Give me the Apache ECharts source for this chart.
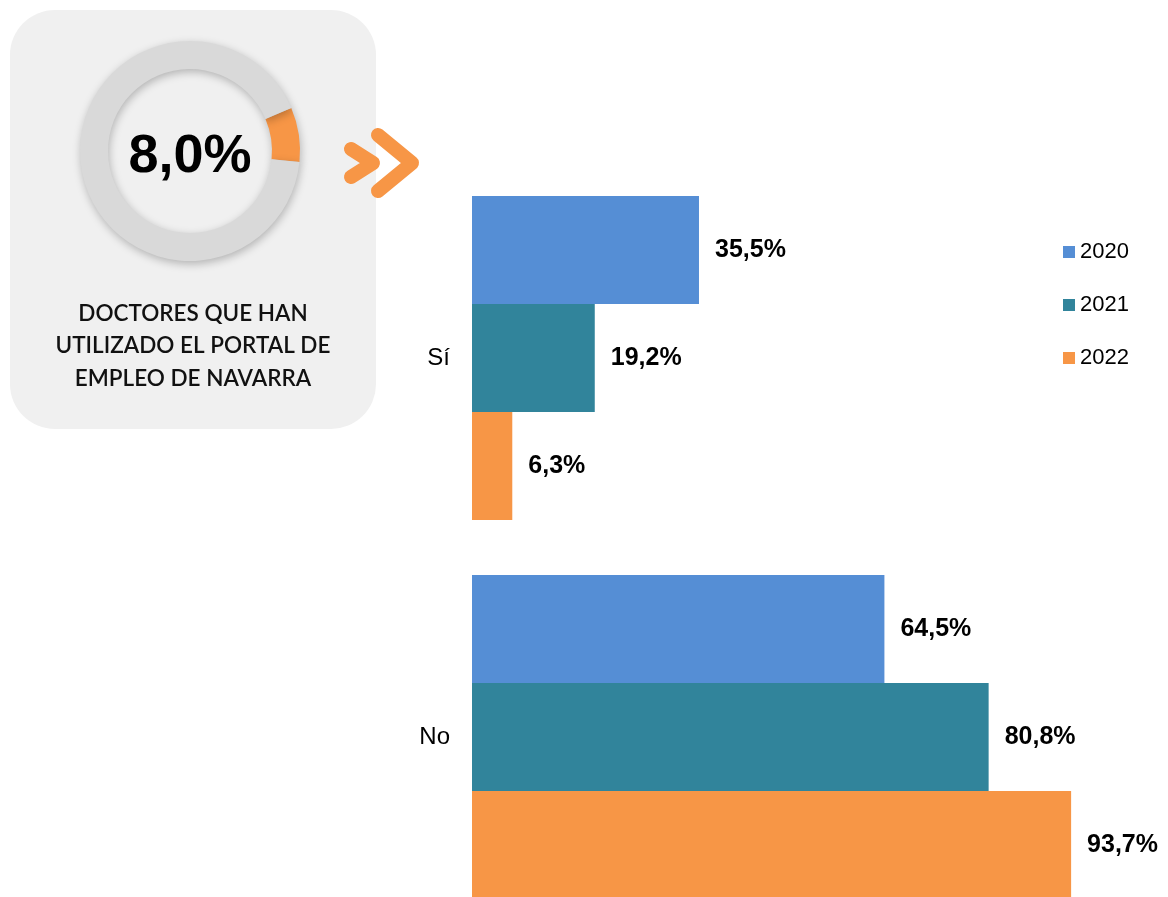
<!DOCTYPE html>
<html>
<head>
<meta charset="utf-8">
<script src="https://cdn.jsdelivr.net/npm/echarts@6/dist/echarts.min.js"></script>
<style>html,body{margin:0;padding:0;background:#fff}#c{width:1168px;height:897px}</style>
</head>
<body>
<div id="c"></div>
<script>
// ---- data ----
var categories = ['Sí', 'No'];
var years = ['2020', '2021', '2022'];
var values2020 = [35.5, 64.5];
var values2021 = [19.2, 80.8];
var values2022 = [6.3, 93.7];
var donutValues = [8.0, 92.0];
var donutLabel = '8,0%';
var panelLines = ['DOCTORES QUE HAN', 'UTILIZADO EL PORTAL DE', 'EMPLEO DE NAVARRA'];

var colors = ['#558ED5', '#31849B', '#F79646'];
var seriesValues = [values2020, values2021, values2022];

function fmt(v) { return v.toFixed(1).replace('.', ',') + '%'; }

var chart = echarts.init(document.getElementById('c'), null, { renderer: 'canvas' });

var barSeries = years.map(function (y, i) {
  return {
    name: y,
    type: 'bar',
    xAxisIndex: 0,
    yAxisIndex: 0,
    barGap: '0%',
    barCategoryGap: '14.5%',
    itemStyle: { color: colors[i] },
    label: {
      show: true,
      position: 'right',
      distance: 16,
      color: '#000',
      fontFamily: 'Arial, "Liberation Sans", sans-serif',
      fontWeight: 'bold',
      fontSize: 25,
      formatter: function (p) { return fmt(p.value); }
    },
    data: seriesValues[i]
  };
});

var option = {
  animation: false,
  backgroundColor: '#ffffff',
  legend: {
    data: years,
    orient: 'vertical',
    left: 1063,
    top: 241,
    padding: 0,
    itemWidth: 12,
    itemHeight: 12,
    itemGap: 31,
    icon: 'rect',
    textStyle: { fontSize: 22, color: '#000', fontFamily: 'Arial, "Liberation Sans", sans-serif', padding: [0, 0, 0, 0] }
  },
  grid: { left: 472, top: 168.5, width: 639.4, height: 758, containLabel: false, outerBoundsMode: 'none' },
  xAxis: {
    type: 'value', min: 0, max: 100, show: false
  },
  yAxis: {
    type: 'category',
    data: categories,
    inverse: true,
    axisLine: { show: false },
    axisTick: { show: false },
    splitLine: { show: false },
    axisLabel: { margin: 22, fontSize: 24, color: '#000', fontFamily: 'Arial, "Liberation Sans", sans-serif' }
  },
  graphic: [
    {
      type: 'rect', z: -10,
      shape: { x: 10, y: 10, width: 366, height: 419, r: 45 },
      style: { fill: '#F0F0F0' }
    },
    {
      type: 'text', z: 10,
      style: {
        x: 190, y: 157, text: donutLabel, fill: '#000',
        font: 'bold 54px Arial, "Liberation Sans", sans-serif',
        textAlign: 'center', textVerticalAlign: 'middle'
      }
    },
    {
      type: 'text', z: 10,
      style: {
        x: 193, y: 346, text: panelLines.join('\n'), fill: '#111',
        font: '600 22.5px Lato, "Open Sans", sans-serif', lineHeight: 32.5,
        textAlign: 'center', textVerticalAlign: 'middle'
      }
    },
    {
      type: 'polyline', z: 10,
      shape: { points: [[351, 149], [373, 163], [351, 177]] },
      style: { stroke: '#F79646', lineWidth: 14, lineCap: 'round', lineJoin: 'round', fill: null }
    },
    {
      type: 'polyline', z: 11,
      shape: { points: [[378, 135], [412, 163], [378, 191]] },
      style: { stroke: '#F79646', lineWidth: 14, lineCap: 'round', lineJoin: 'round', fill: null }
    }
  ],
  series: barSeries.concat([
    {
      type: 'pie',
      center: [190, 151],
      radius: [82, 110],
      startAngle: 23,
      clockwise: true,
      silent: true,
      label: { show: false },
      labelLine: { show: false },
      itemStyle: { shadowBlur: 8, shadowOffsetY: 3, shadowOffsetX: 1, shadowColor: 'rgba(0,0,0,0.25)' },
      data: [
        { value: donutValues[0], itemStyle: { color: '#F79646' } },
        { value: donutValues[1], itemStyle: { color: '#D9D9D9' } }
      ]
    }
  ])
};
chart.setOption(option);
</script>
</body>
</html>
